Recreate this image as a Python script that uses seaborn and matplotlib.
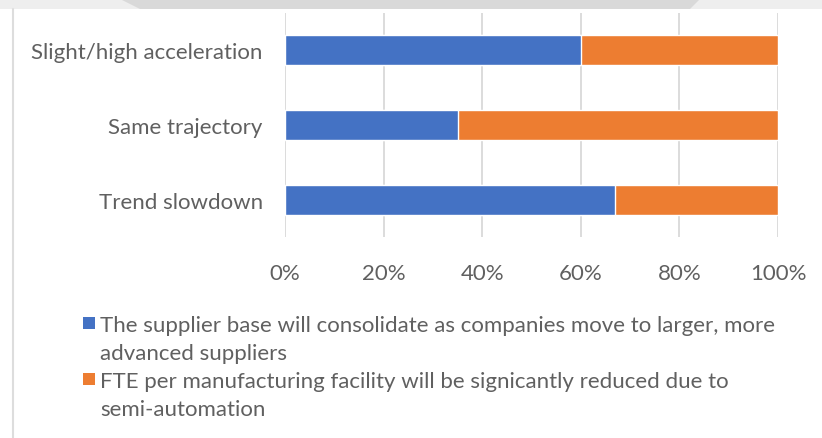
import matplotlib
matplotlib.use("Agg")
import matplotlib.pyplot as plt
import matplotlib.patches as mpatches
import seaborn as sns
import pandas as pd

categories = ["Slight/high acceleration", "Same trajectory", "Trend slowdown"]
consolidate_share = [60, 35, 67]
reduced_share = [40, 65, 33]
series_names = [
    "The supplier base will consolidate as companies move to larger, more\nadvanced suppliers",
    "FTE per manufacturing facility will be signicantly reduced due to\nsemi-automation",
]
tick_values = [0, 20, 40, 60, 80, 100]
tick_labels = ["0%", "20%", "40%", "60%", "80%", "100%"]

BLUE = "#4472C4"
ORANGE = "#ED7D31"
TEXT = "#606060"
GRID = "#D9D9D9"
FS = 16

sns.set_theme(style="white")
plt.rcParams["font.family"] = ["Lato", "DejaVu Sans"]

df = pd.DataFrame({
    "category": categories,
    "consolidate": consolidate_share,
    "total": [a + b for a, b in zip(consolidate_share, reduced_share)],
})

W, H = 822, 439
fig = plt.figure(figsize=(W / 100, H / 100), dpi=100)
ax = fig.add_axes([285 / W, 1 - 238 / H, 493 / W, 224 / H])

# stacked bars: full-length orange first, blue share drawn over it
sns.barplot(data=df, x="total", y="category", color=ORANGE, width=0.4,
            saturation=1, ax=ax, zorder=3)
sns.barplot(data=df, x="consolidate", y="category", color=BLUE, width=0.4,
            saturation=1, ax=ax, zorder=4)

ax.set_xlim(0, 100)
ax.set_ylim(2.5, -0.5)
ax.set_xticks(tick_values)
ax.set_xticklabels(tick_labels)
ax.set_xlabel("")
ax.set_ylabel("")
ax.xaxis.grid(True, color=GRID, linewidth=1.3, zorder=0)
ax.yaxis.grid(False)
for s in ax.spines.values():
    s.set_visible(False)
ax.tick_params(axis="x", length=0, pad=19, labelsize=FS, labelcolor=TEXT)
ax.tick_params(axis="y", length=0, pad=16, labelsize=FS, labelcolor=TEXT)

# legend: coloured square beside each (wrapped) series name
line_h = 28
first_line = 324
row = 0
for name, col in zip(series_names, [BLUE, ORANGE]):
    y = first_line + row * line_h
    fig.add_artist(mpatches.Rectangle((83 / W, 1 - (y + 6) / H), 12 / W, 12 / H,
                                      transform=fig.transFigure, color=col, lw=0))
    for k, part in enumerate(name.split("\n")):
        fig.text(100 / W, 1 - (y + k * line_h) / H, part, fontsize=FS,
                 color=TEXT, va="center_baseline", ha="left")
    row += len(name.split("\n"))

# frame edge on the left and the grey strip along the top
fig.add_artist(plt.Line2D([13 / W, 13 / W], [0, 1 - 10 / H],
                          transform=fig.transFigure, color="#DDDDDD", lw=1.5))
fig.add_artist(mpatches.Polygon(
    [(0, 1), (1, 1), (1, 1 - 10 / H), (0, 1 - 10 / H)],
    closed=True, transform=fig.transFigure, color="#EEEEEE", lw=0))
fig.add_artist(mpatches.Polygon(
    [(120 / W, 1), (700 / W, 1), (690 / W, 1 - 10 / H), (140 / W, 1 - 10 / H)],
    closed=True, transform=fig.transFigure, color="#D9D9D9", lw=0))

fig.savefig("out.png", dpi=100, facecolor="white")
